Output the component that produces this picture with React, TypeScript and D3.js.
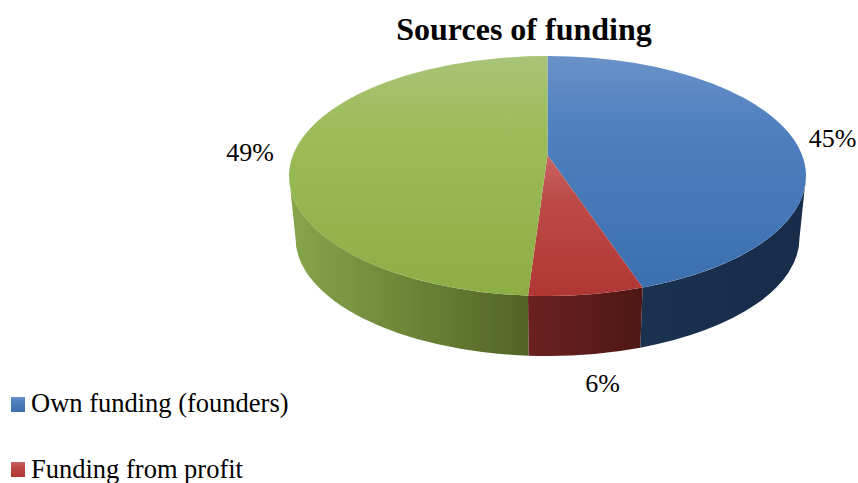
import React from "react";
import * as d3 from "d3";

const categories = ["Own funding (founders)", "Funding from profit", "Other funding"];
// Visible slice sweep as drawn in the projected pie
const sliceShares = [44.0, 7.2, 48.8];
const percentLabels = ["45%", "6%", "49%"];
const title = "Sources of funding";
const topStops = [
  ["#6a92c8", "#4f80c0", "#3b6fb0"],
  ["#c86565", "#bd4b49", "#b03633"],
  ["#a8c478", "#9cbc59", "#8dae45"],
];
const wallStops = [
  ["#1a3150", "#182c4a"],
  ["#6a2120", "#4e1715"],
  ["#86a64b", "#526425"],
];
const labelPositions = [
  [832.5, 147],
  [602.5, 392],
  [250, 161],
];
const legendRows = [
  [11, 397, 31, 412],
  [11, 462, 31, 478],
];

const W = 858, H = 483;
const cx = 547.5, cy = 176, rx = 258.5, ry = 120;
const apexY = 155;
const bcx = 547.5, bcy = 238, brx = 252, bry = 118;
const FONT = "'Liberation Serif', 'Times New Roman', serif";

const pt = (a: number, c: number[]) => [c[0] + c[2] * Math.sin(a), c[1] - c[3] * Math.cos(a)];

function wallPath(a0: number, a1: number) {
  const s = Math.max(a0, Math.PI / 2), e = Math.min(a1, (3 * Math.PI) / 2);
  if (e <= s) return "";
  const T = [cx, cy, rx, ry], B = [bcx, bcy, brx, bry];
  const [x0, y0] = pt(s, T), [x1, y1] = pt(e, T), [x2, y2] = pt(e, B), [x3, y3] = pt(s, B);
  return `M${x0},${y0}A${rx},${ry} 0 0 1 ${x1},${y1}L${x2},${y2}A${brx},${bry} 0 0 0 ${x3},${y3}Z`;
}

function topPath(a0: number, a1: number) {
  const T = [cx, cy, rx, ry];
  const [x0, y0] = pt(a0, T), [x1, y1] = pt(a1, T);
  const large = a1 - a0 > Math.PI ? 1 : 0;
  return `M${cx},${apexY}L${x0},${y0}A${rx},${ry} 0 ${large} 1 ${x1},${y1}Z`;
}

export default function App() {
  const arcs = d3.pie<number>().sort(null).value((d) => d)(sliceShares);
  return (
    <svg width={W} height={H} viewBox={`0 0 ${W} ${H}`} style={{ position: "absolute", left: 0, top: 0, background: "#fff" }}>
      <defs>
        {topStops.map((s, i) => (
          <linearGradient key={i} id={`top${i}`} x1="0" y1="0" x2="0" y2="1">
            <stop offset="0" stopColor={s[0]} />
            <stop offset="0.3" stopColor={s[1]} />
            <stop offset="1" stopColor={s[2]} />
          </linearGradient>
        ))}
        {wallStops.map((s, i) => (
          <linearGradient key={i} id={`wall${i}`} x1="0" y1="0" x2="1" y2="0">
            <stop offset="0" stopColor={s[0]} />
            <stop offset="1" stopColor={s[1]} />
          </linearGradient>
        ))}
      </defs>
      <text x={524} y={39.5} textAnchor="middle" fontFamily={FONT} fontWeight="bold" fontSize={32} fill="#000">{title}</text>
      {arcs.map((a, i) => (
        <path key={i} d={wallPath(a.startAngle, a.endAngle)} fill={`url(#wall${i})`} />
      ))}
      {arcs.map((a, i) => (
        <path key={i} d={topPath(a.startAngle, a.endAngle)} fill={`url(#top${i})`} />
      ))}
      {percentLabels.map((t, i) => (
        <text key={i} x={labelPositions[i][0]} y={labelPositions[i][1]} textAnchor="middle" fontFamily={FONT} fontSize={26} fill="#000">{t}</text>
      ))}
      {legendRows.map((r, i) => (
        <g key={i}>
          <rect x={r[0]} y={r[1]} width={14} height={15} fill={`url(#top${i})`} />
          <text x={r[2]} y={r[3]} fontFamily={FONT} fontSize={26.5} fill="#000">{categories[i]}</text>
        </g>
      ))}
    </svg>
  );
}
